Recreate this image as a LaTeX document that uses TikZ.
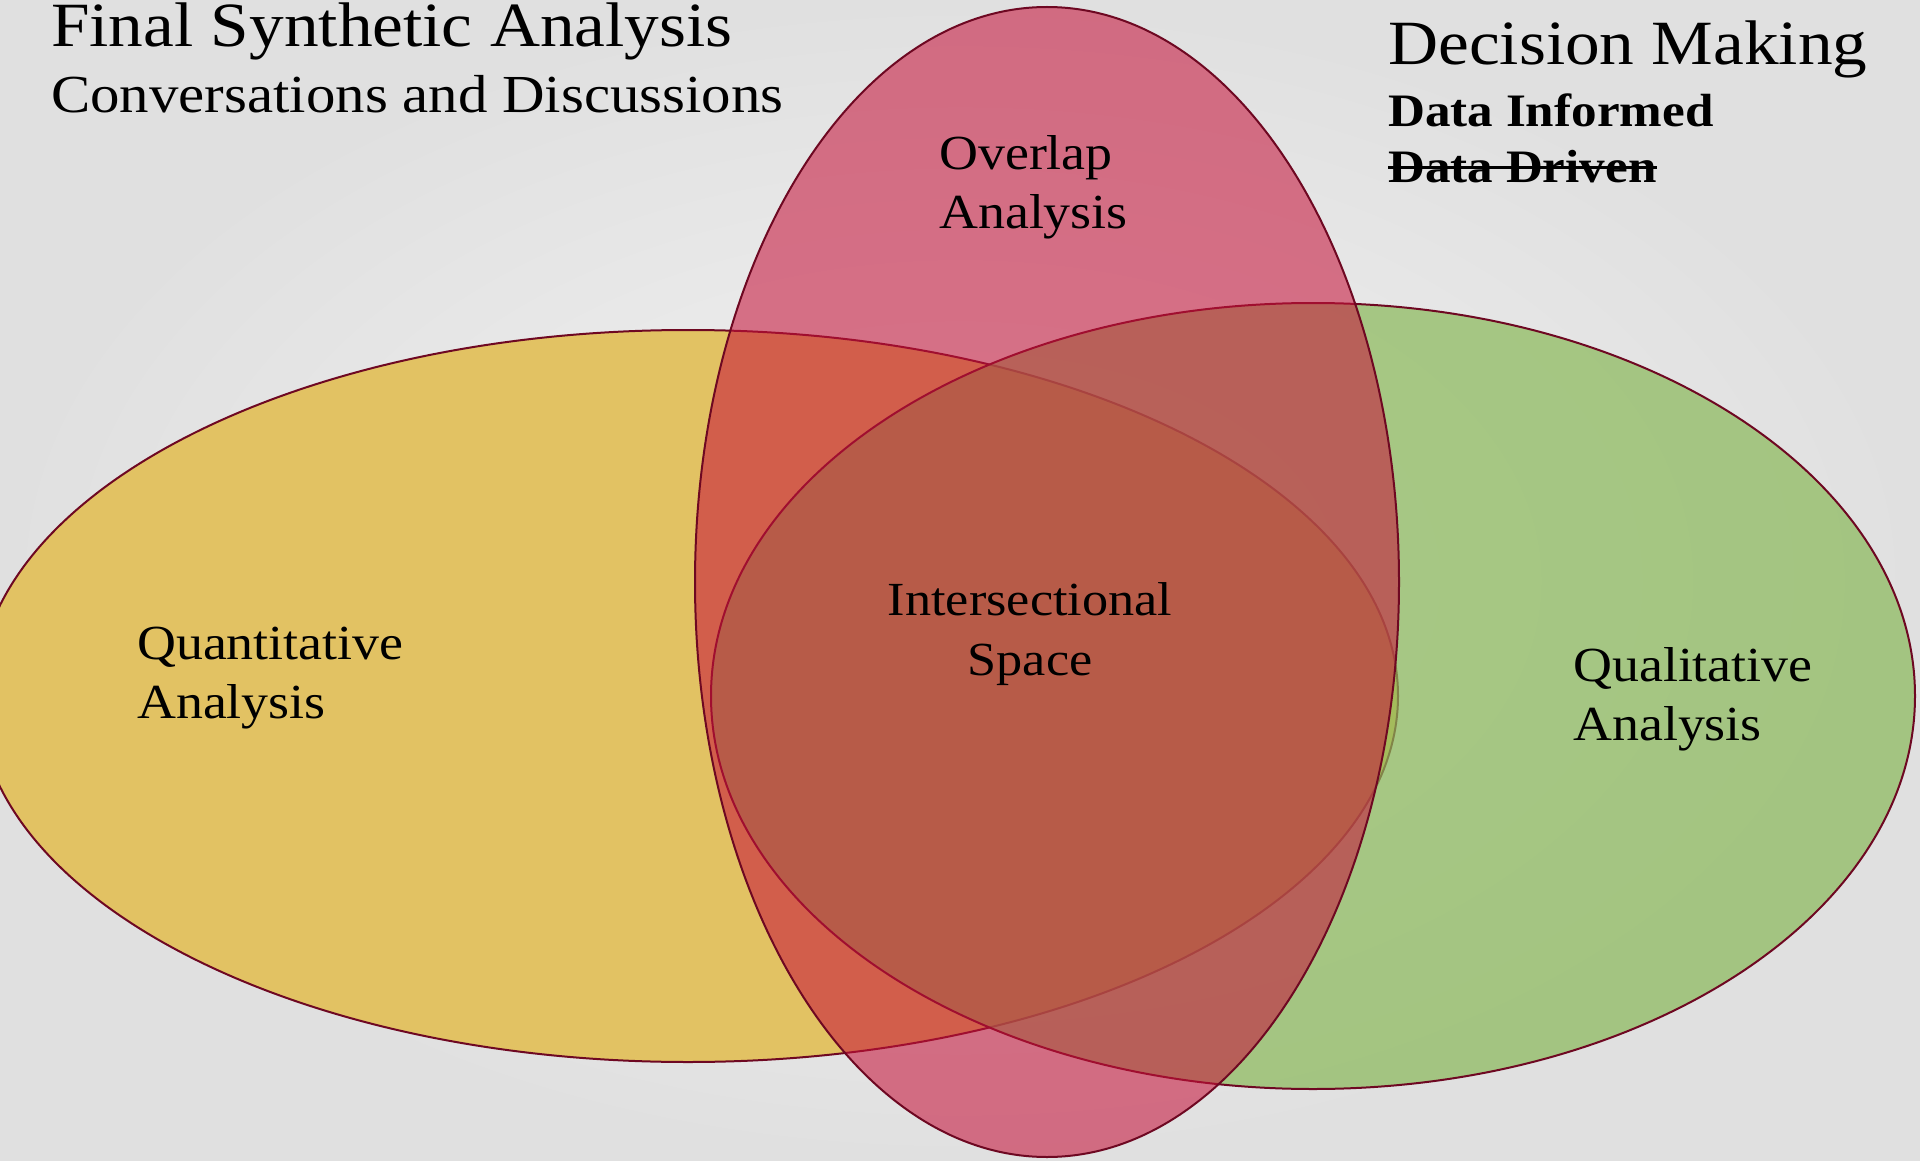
\documentclass[tikz,border=0pt]{standalone}
\usepackage{fontspec}
\setmainfont[FakeStretch=1.1]{Liberation Serif}
\definecolor{yel}{RGB}{226,194,99}
\definecolor{grn}{RGB}{138,185,89}
\definecolor{pnk}{RGB}{198,19,58}
\definecolor{edgecol}{RGB}{110,8,34}
\definecolor{bginner}{RGB}{243,243,243}
\definecolor{bgouter}{RGB}{224,224,224}
\begin{document}
\begin{tikzpicture}[x=1pt,y=-1pt,
  venn/.style={draw=edgecol, line width=2pt},
  lbl/.style={inner sep=0pt, anchor=base west, align=left, font=\fontsize{49}{59}\selectfont},
  boldlbl/.style={lbl, font=\fontsize{46.5}{53}\selectfont\bfseries}]
\useasboundingbox (0,0) rectangle (1920,1161);
\clip (0,0) rectangle (1920,1161);
\shade[inner color=bginner, outer color=bgouter] (0,0) rectangle (1920,1161);
% ellipses
\path[venn, fill=yel] (688,696) ellipse [x radius=710pt, y radius=366pt];
\path[venn, fill=grn, fill opacity=0.7] (1313,696) ellipse [x radius=602pt, y radius=393pt];
\path[venn, fill=pnk, fill opacity=0.57] (1047,582) ellipse [x radius=352pt, y radius=575pt];
% titles
\node[lbl, font=\fontsize{63}{70}\selectfont] (title) at (51,47) {Final Synthetic Analysis};
\node[lbl, font=\fontsize{53.5}{60}\selectfont] (subtitle) at (51,113) {Conversations and Discussions};
\node[lbl, font=\fontsize{63}{72}\selectfont] (decision) at (1388,65) {Decision Making};
\node[boldlbl] (informed) at (1388,127) {Data Informed};
\node[boldlbl] (driven) at (1388,183) {Data Driven};
\draw[line width=3pt] ([yshift=15pt]driven.base west) -- ([yshift=15pt]driven.base east);
% labels (base anchor = baseline of the last line)
\node[lbl] (overlap) at (939,229) {Overlap\\Analysis};
\node[lbl, anchor=base, align=center, font=\fontsize{47.5}{60}\selectfont] (inter) at (1030,675) {Intersectional\\Space};
\node[lbl] (quant) at (137,718) {Quantitative\\Analysis};
\node[lbl] (qual) at (1573,740) {Qualitative\\Analysis};
\end{tikzpicture}
\end{document}
